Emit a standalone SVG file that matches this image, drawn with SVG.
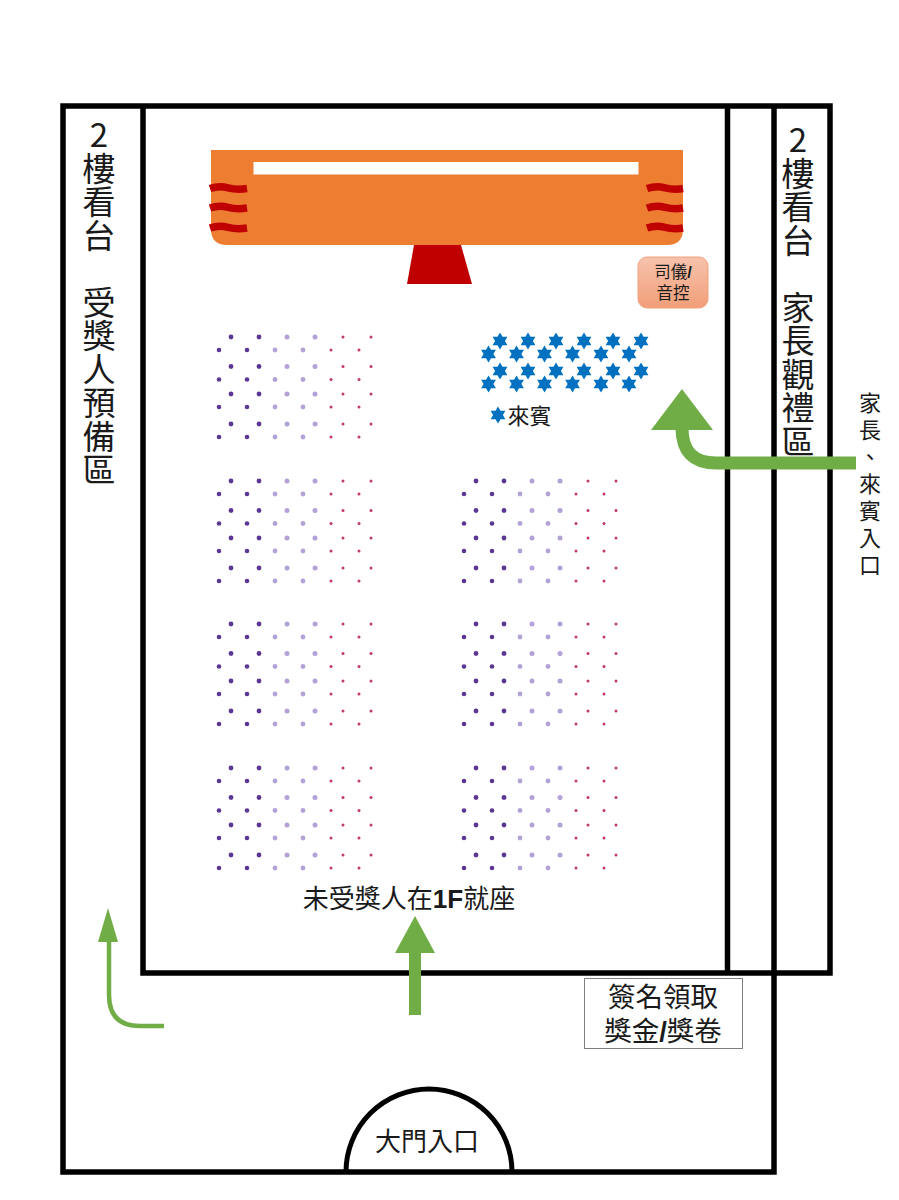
<svg xmlns="http://www.w3.org/2000/svg" width="899" height="1200" viewBox="0 0 899 1200">
<style>
text{font-family:"Noto Sans CJK TC","Noto Sans CJK SC","Liberation Sans",sans-serif;fill:#1a1a1a;text-anchor:middle}
.wall{fill:none;stroke:#000;stroke-width:5.5;stroke-linecap:square}
.flow{fill:none;stroke:#70ad47}
.head{fill:#70ad47}
.wave{fill:none;stroke:#c00000;stroke-width:7.500}
.a{fill:#5b3692}.b{fill:#b3a2d7}.c{fill:#c0396b}
.star{fill:#0070c0}
.vert{writing-mode:vertical-rl;text-orientation:upright;text-anchor:start}
.v34{font-size:33px;letter-spacing:.5px}
.v22{font-size:22px;letter-spacing:5px}
</style>
<defs>
<linearGradient id="hostFill" x1="0" y1="0" x2="0" y2="1"><stop offset="0" stop-color="#f7c3ad"/><stop offset="1" stop-color="#f19e78"/></linearGradient>
<path id="star6" d="M0-8.500 2.500-4.250 7.400-4.250 4.900 0 7.400 4.250 2.500 4.250 0 8.500-2.500 4.250-7.400 4.250-4.900 0-7.400-4.250-2.500-4.250Z"/>
<g id="dotRowHi">
<circle class="a" cx="231" cy="0" r="2.400"/><circle class="a" cx="259" cy="0" r="2.400"/><circle class="b" cx="287" cy="0" r="2.500"/><circle class="b" cx="315" cy="0" r="2.500"/><circle class="c" cx="343" cy="0" r="1.500"/><circle class="c" cx="371" cy="0" r="1.500"/>
</g>
<g id="dotRowLo">
<circle class="a" cx="219" cy="0" r="2.300"/><circle class="a" cx="247" cy="0" r="2.300"/><circle class="b" cx="275" cy="0" r="2.400"/><circle class="b" cx="303" cy="0" r="2.400"/><circle class="c" cx="331" cy="0" r="1.500"/><circle class="c" cx="359" cy="0" r="1.500"/>
</g>
<g id="dots">
<use href="#dotRowHi" y="337"/><use href="#dotRowLo" y="350"/><use href="#dotRowHi" y="366.500"/><use href="#dotRowLo" y="379.500"/><use href="#dotRowHi" y="394"/><use href="#dotRowLo" y="407"/><use href="#dotRowHi" y="424"/><use href="#dotRowLo" y="437"/>
</g>
</defs>
<rect width="899" height="1200" fill="#fff"/>
<g id="walls">
<path class="wall" d="M63 106H830V973H143V106M63 106V1172H774V106M727.500 106V973"/>
</g>
<g id="stage">
<path d="M211 150H683V229Q683 245 667 245H227Q211 245 211 229Z" fill="#ed7d31"/>
<rect x="253.500" y="162" width="385" height="12.500" fill="#fff"/>
<path d="M414 245H461L472 284H407Z" fill="#c00000"/>
<path class="wave" d="M210 188.500Q219 185.500 228 187.800T247 188.500M210 208Q219 205 228 207.300T247 208M210 228Q219 225 228 227.300T247 228M647 188.500Q656 185.500 665 187.800T683 188.500M647 208Q656 205 665 207.300T683 208M647 228Q656 225 665 227.300T683 228"/>
</g>
<g id="host">
<rect x="638" y="257" width="70" height="51" rx="9" fill="url(#hostFill)" stroke="#f0a27e"/>
<text x="673" y="278" font-size="16.500">司儀<tspan font-family="Liberation Sans" font-weight="700">/</tspan></text>
<text x="673" y="299" font-size="16.500">音控</text>
</g>
<g id="seats">
<use href="#dots"/>
<use href="#dots" y="144"/>
<use href="#dots" y="287"/>
<use href="#dots" y="431"/>
<use href="#dots" x="245" y="144"/>
<use href="#dots" x="245" y="287"/>
<use href="#dots" x="245" y="431"/>
</g>
<g id="guests">
<g class="star">
<use href="#star6" x="500" y="341"/><use href="#star6" x="528" y="341"/><use href="#star6" x="556" y="341"/><use href="#star6" x="584" y="341"/><use href="#star6" x="613" y="341"/><use href="#star6" x="641" y="341"/>
<use href="#star6" x="488.500" y="354"/><use href="#star6" x="516.500" y="354"/><use href="#star6" x="544.500" y="354"/><use href="#star6" x="572.500" y="354"/><use href="#star6" x="601" y="354"/><use href="#star6" x="629" y="354"/>
<use href="#star6" x="500" y="371"/><use href="#star6" x="528" y="371"/><use href="#star6" x="556" y="371"/><use href="#star6" x="584" y="371"/><use href="#star6" x="613" y="371"/><use href="#star6" x="641" y="371"/>
<use href="#star6" x="488.500" y="384"/><use href="#star6" x="516.500" y="384"/><use href="#star6" x="544.500" y="384"/><use href="#star6" x="572.500" y="384"/><use href="#star6" x="601" y="384"/><use href="#star6" x="629" y="384"/>
<use href="#star6" x="498" y="415"/>
</g>
<text x="529.500" y="424" font-size="22">來賓</text>
</g>
<g id="connectors">
<path class="flow" stroke-width="13" d="M856 463H716Q682 463 682 428"/>
<path class="head" d="M682 389 713 430H651Z"/>
<path class="flow" stroke-width="4.500" d="M164 1026H140Q109 1026 109 995V940"/>
<path class="head" d="M108 908 118 942H98Z"/>
<path class="flow" stroke-width="12" d="M415 1015V950"/>
<path class="head" d="M415 916 435 953H395Z"/>
</g>
<g id="balcony-left">
<text class="vert v34" x="99" y="118">2樓看台　受獎人預備區</text>
</g>
<g id="balcony-right">
<text class="vert v34" x="798" y="123">2樓看台　家長觀禮區</text>
</g>
<g id="entrance-side">
<text class="vert v22" x="870" y="392">家長、來賓入口</text>
</g>
<g id="seating-note">
<text x="409" y="908" font-size="26">未受獎人在<tspan font-family="Liberation Sans" font-weight="700">1F</tspan>就座</text>
</g>
<g id="signin">
<rect x="584.500" y="978.500" width="158" height="70" fill="#fff" stroke="#7f7f7f"/>
<text x="663" y="1007" font-size="27.500">簽名領取</text>
<text x="663" y="1041" font-size="27.500">獎金<tspan font-family="Liberation Sans" font-weight="700">/</tspan>獎卷</text>
</g>
<g id="main-door">
<path d="M346 1172A83 83 0 0 1 512 1172" fill="none" stroke="#000" stroke-width="5"/>
<text x="427" y="1151" font-size="26">大門入口</text>
</g>
</svg>
